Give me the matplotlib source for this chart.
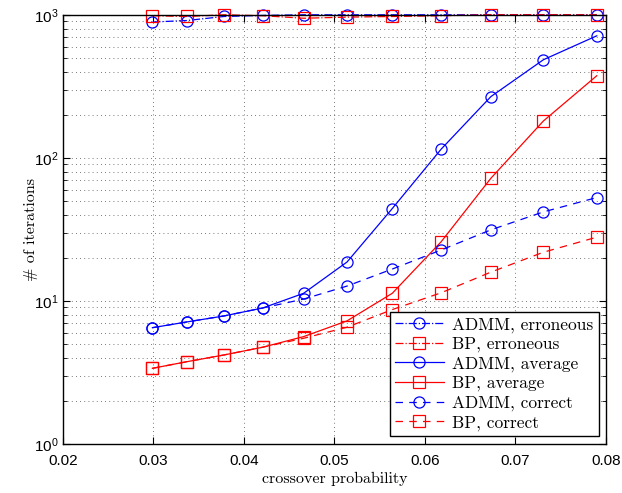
import matplotlib
matplotlib.use("Agg")
import matplotlib.pyplot as plt
from matplotlib.ticker import LogLocator, FixedLocator, NullFormatter

# crossover probabilities
p = [0.0299, 0.0337, 0.0378, 0.0421, 0.0466, 0.0514, 0.0564, 0.0618, 0.0673, 0.0731, 0.0790]

admm_err = [890, 912, 973, 990, 1000, 1000, 1000, 1000, 1000, 1000, 1000]
bp_err = [985, 973, 1000, 985, 946, 963, 973, 985, 1000, 1000, 1000]
admm_avg = [6.5, 7.13, 7.85, 8.93, 11.3, 18.7, 44.2, 115, 268, 485, 713]
bp_avg = [3.38, 3.76, 4.19, 4.75, 5.63, 7.25, 11.3, 25.9, 72, 181, 375]
admm_cor = [6.5, 7.13, 7.85, 8.93, 10.3, 12.7, 16.7, 22.7, 31.4, 41.9, 52.8]
bp_cor = [3.38, 3.76, 4.19, 4.75, 5.48, 6.55, 8.7, 11.4, 15.9, 21.9, 27.9]

serif = ["cmr10", "DejaVu Serif"]
plt.rcParams["font.family"] = ["Liberation Sans", "DejaVu Sans"]
plt.rcParams["axes.formatter.use_mathtext"] = True

fig = plt.figure(figsize=(6.22, 4.93), dpi=100)
ax = fig.add_axes([0.101, 0.0994, 0.873, 0.8706])

kw = dict(markerfacecolor="none", markersize=8, markeredgewidth=0.9,
          linewidth=0.9, clip_on=False)
ax.plot(p, admm_err, "b-.", marker="o", label="ADMM, erroneous", **kw)
ax.plot(p, bp_err, "r-.", marker="s", label="BP, erroneous", **kw)
ax.plot(p, admm_avg, "b-", marker="o", label="ADMM, average", **kw)
ax.plot(p, bp_avg, "r-", marker="s", label="BP, average", **kw)
ax.plot(p, admm_cor, "b--", marker="o", label="ADMM, correct", dashes=(6, 5), **kw)
ax.plot(p, bp_cor, "r--", marker="s", label="BP, correct", dashes=(6, 5), **kw)

ax.set_yscale("log")
ax.set_xlim(0.02, 0.08)
ax.set_ylim(1, 1000)
ax.xaxis.set_major_locator(FixedLocator([0.02, 0.03, 0.04, 0.05, 0.06, 0.07, 0.08]))
ax.set_xticklabels(["0.02", "0.03", "0.04", "0.05", "0.06", "0.07", "0.08"])
ax.yaxis.set_major_locator(LogLocator(base=10, numticks=10))
ax.yaxis.set_minor_locator(LogLocator(base=10, subs=range(2, 10), numticks=10))
ax.yaxis.set_minor_formatter(NullFormatter())

ax.tick_params(which="both", direction="in", top=True, right=True, labelsize=11)
ax.tick_params(axis="x", pad=7)
ax.tick_params(axis="y", pad=3)
ax.tick_params(which="major", length=5)
ax.tick_params(which="minor", length=3)
ax.grid(True, which="major", linestyle=(0, (1, 4)), color="black", linewidth=0.6, alpha=0.7)
ax.grid(True, which="minor", axis="y", linestyle=(0, (1, 4)), color="black", linewidth=0.6, alpha=0.7)
for s in ax.spines.values():
    s.set_linewidth(1.0)

ax.set_xlabel("crossover probability", family=serif, fontsize=11.5, labelpad=3)
ax.set_ylabel("# of iterations", family=serif, fontsize=11.5)
ax.yaxis.set_label_coords(-0.045, 0.5)

leg = ax.legend(loc="lower right", bbox_to_anchor=(0.987, 0.019), borderaxespad=0,
                prop={"family": serif, "size": 12.5},
                fancybox=False, framealpha=1, edgecolor="black",
                handlelength=2.8, labelspacing=0.22,
                borderpad=0.3, handletextpad=0.5)
leg.get_frame().set_linewidth(1.0)

fig.savefig("out.png", dpi=100)
